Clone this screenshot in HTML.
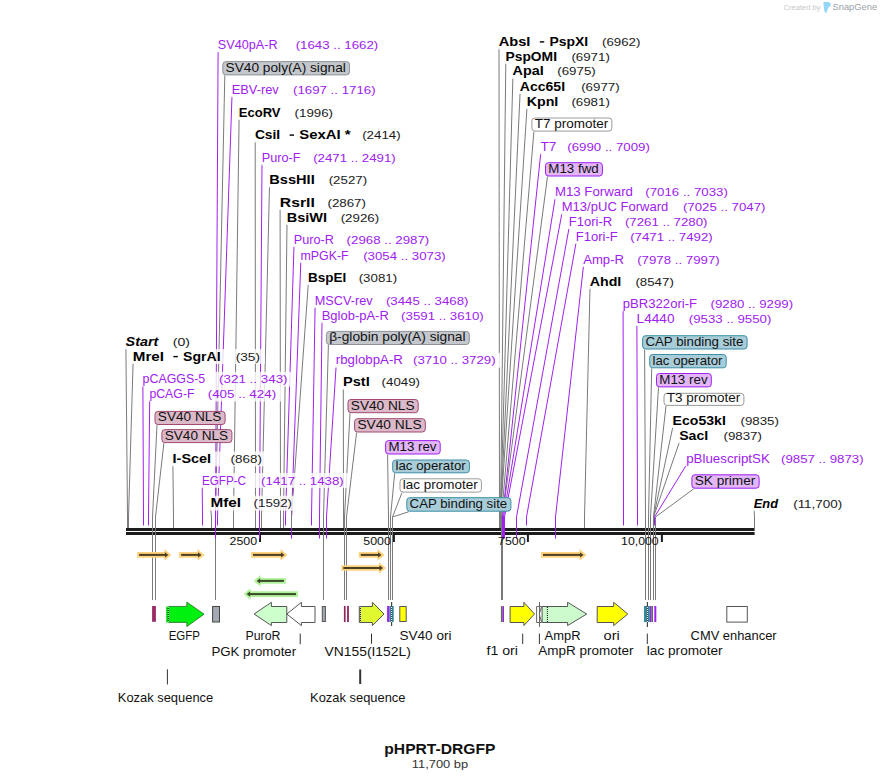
<!DOCTYPE html>
<html><head><meta charset="utf-8"><style>html,body{margin:0;padding:0;background:#fff;width:881px;height:780px;overflow:hidden}svg{display:block}text{font-family:"Liberation Sans",sans-serif}</style></head>
<body><svg width="881" height="780" viewBox="0 0 881 780" font-family="Liberation Sans, sans-serif">
<rect width="881" height="780" fill="#fff"/>
<rect x="126" y="528" width="628.6" height="3" fill="#1c1c1c"/><rect x="126" y="532" width="628.6" height="3" fill="#1c1c1c"/><rect x="259.0" y="535" width="2" height="7" fill="#1c1c1c"/><rect x="392.9" y="535" width="2" height="7" fill="#1c1c1c"/><rect x="526.9" y="535" width="2" height="7" fill="#1c1c1c"/><rect x="660.9" y="535" width="2" height="7" fill="#1c1c1c"/>
<polyline points="224.80,75.40 215.50,517.00 215.50,600.00" fill="none" stroke="#7a7a7a" stroke-width="1.0" stroke-linejoin="miter"/><polyline points="328.40,345.00 323.50,517.00 323.50,600.00" fill="none" stroke="#7a7a7a" stroke-width="1.0" stroke-linejoin="miter"/><polyline points="157.00,425.00 152.50,517.00 152.50,600.00" fill="none" stroke="#7a7a7a" stroke-width="1.0" stroke-linejoin="miter"/><polyline points="163.90,443.10 155.50,517.00 155.50,600.00" fill="none" stroke="#7a7a7a" stroke-width="1.0" stroke-linejoin="miter"/><polyline points="350.00,413.20 344.50,517.00 344.50,600.00" fill="none" stroke="#7a7a7a" stroke-width="1.0" stroke-linejoin="miter"/><polyline points="356.60,432.50 346.50,517.00 346.50,600.00" fill="none" stroke="#7a7a7a" stroke-width="1.0" stroke-linejoin="miter"/><polyline points="387.60,454.50 388.50,517.00 388.50,600.00" fill="none" stroke="#7a7a7a" stroke-width="1.0" stroke-linejoin="miter"/><polyline points="394.70,473.30 390.50,517.00 390.50,600.00" fill="none" stroke="#7a7a7a" stroke-width="1.0" stroke-linejoin="miter"/><polyline points="402.00,492.60 392.50,517.00 392.50,600.00" fill="none" stroke="#7a7a7a" stroke-width="1.0" stroke-linejoin="miter"/><polyline points="408.80,511.70 392.50,517.00 392.50,600.00" fill="none" stroke="#7a7a7a" stroke-width="1.0" stroke-linejoin="miter"/><polyline points="533.90,131.60 501.50,517.00 501.50,600.00" fill="none" stroke="#7a7a7a" stroke-width="1.0" stroke-linejoin="miter"/><polyline points="547.50,176.50 502.50,517.00 502.50,600.00" fill="none" stroke="#7a7a7a" stroke-width="1.0" stroke-linejoin="miter"/><polyline points="644.60,349.50 645.50,517.00 645.50,600.00" fill="none" stroke="#7a7a7a" stroke-width="1.0" stroke-linejoin="miter"/><polyline points="651.70,368.30 648.50,517.00 648.50,600.00" fill="none" stroke="#7a7a7a" stroke-width="1.0" stroke-linejoin="miter"/><polyline points="658.50,387.40 650.50,517.00 650.50,600.00" fill="none" stroke="#7a7a7a" stroke-width="1.0" stroke-linejoin="miter"/><polyline points="666.00,405.90 653.50,517.00 653.50,600.00" fill="none" stroke="#7a7a7a" stroke-width="1.0" stroke-linejoin="miter"/><polyline points="693.90,488.70 655.50,517.00 655.50,600.00" fill="none" stroke="#7a7a7a" stroke-width="1.0" stroke-linejoin="miter"/><polyline points="218.10,51.00 215.50,517.00 215.50,538.50" fill="none" stroke="#a020f0" stroke-width="1.0" stroke-linejoin="miter"/><polyline points="232.00,95.80 217.50,517.00 217.50,525.50" fill="none" stroke="#a020f0" stroke-width="1.0" stroke-linejoin="miter"/><polyline points="239.10,118.70 233.50,517.00 233.50,528.00" fill="none" stroke="#7a7a7a" stroke-width="1.0" stroke-linejoin="miter"/><polyline points="255.20,141.10 255.50,517.00 255.50,528.00" fill="none" stroke="#7a7a7a" stroke-width="1.0" stroke-linejoin="miter"/><polyline points="262.00,163.80 259.50,517.00 259.50,538.50" fill="none" stroke="#a020f0" stroke-width="1.0" stroke-linejoin="miter"/><polyline points="269.50,186.00 261.50,517.00 261.50,528.00" fill="none" stroke="#7a7a7a" stroke-width="1.0" stroke-linejoin="miter"/><polyline points="280.10,208.70 280.50,517.00 280.50,528.00" fill="none" stroke="#7a7a7a" stroke-width="1.0" stroke-linejoin="miter"/><polyline points="287.00,223.50 283.50,517.00 283.50,528.00" fill="none" stroke="#7a7a7a" stroke-width="1.0" stroke-linejoin="miter"/><polyline points="294.00,245.60 285.50,517.00 285.50,525.50" fill="none" stroke="#a020f0" stroke-width="1.0" stroke-linejoin="miter"/><polyline points="300.80,261.50 291.50,517.00 291.50,538.50" fill="none" stroke="#a020f0" stroke-width="1.0" stroke-linejoin="miter"/><polyline points="308.30,283.80 291.50,517.00 291.50,528.00" fill="none" stroke="#7a7a7a" stroke-width="1.0" stroke-linejoin="miter"/><polyline points="315.10,306.50 311.50,517.00 311.50,525.50" fill="none" stroke="#a020f0" stroke-width="1.0" stroke-linejoin="miter"/><polyline points="322.00,321.60 319.50,517.00 319.50,538.50" fill="none" stroke="#a020f0" stroke-width="1.0" stroke-linejoin="miter"/><polyline points="336.10,366.30 326.50,517.00 326.50,538.50" fill="none" stroke="#a020f0" stroke-width="1.0" stroke-linejoin="miter"/><polyline points="343.30,388.30 343.50,517.00 343.50,528.00" fill="none" stroke="#7a7a7a" stroke-width="1.0" stroke-linejoin="miter"/><polyline points="125.90,347.90 127.50,517.00 127.50,528.00" fill="none" stroke="#7a7a7a" stroke-width="1.0" stroke-linejoin="miter"/><polyline points="133.10,362.60 128.50,517.00 128.50,528.00" fill="none" stroke="#7a7a7a" stroke-width="1.0" stroke-linejoin="miter"/><polyline points="142.90,385.30 143.50,517.00 143.50,525.50" fill="none" stroke="#a020f0" stroke-width="1.0" stroke-linejoin="miter"/><polyline points="149.70,400.10 148.50,517.00 148.50,525.50" fill="none" stroke="#a020f0" stroke-width="1.0" stroke-linejoin="miter"/><polyline points="172.90,465.00 173.50,517.00 173.50,528.00" fill="none" stroke="#7a7a7a" stroke-width="1.0" stroke-linejoin="miter"/><polyline points="202.20,486.50 202.50,517.00 202.50,525.50" fill="none" stroke="#a020f0" stroke-width="1.0" stroke-linejoin="miter"/><polyline points="210.80,509.20 211.50,517.00 211.50,528.00" fill="none" stroke="#7a7a7a" stroke-width="1.0" stroke-linejoin="miter"/><polyline points="499.00,47.90 499.50,517.00 499.50,528.00" fill="none" stroke="#7a7a7a" stroke-width="1.0" stroke-linejoin="miter"/><polyline points="505.80,62.60 500.50,517.00 500.50,528.00" fill="none" stroke="#7a7a7a" stroke-width="1.0" stroke-linejoin="miter"/><polyline points="512.90,77.40 500.50,517.00 500.50,528.00" fill="none" stroke="#7a7a7a" stroke-width="1.0" stroke-linejoin="miter"/><polyline points="520.10,92.60 500.50,517.00 500.50,528.00" fill="none" stroke="#7a7a7a" stroke-width="1.0" stroke-linejoin="miter"/><polyline points="527.00,107.60 500.50,517.00 500.50,528.00" fill="none" stroke="#7a7a7a" stroke-width="1.0" stroke-linejoin="miter"/><polyline points="540.80,152.90 502.50,517.00 502.50,538.50" fill="none" stroke="#a020f0" stroke-width="1.0" stroke-linejoin="miter"/><polyline points="555.20,198.00 503.50,517.00 503.50,538.50" fill="none" stroke="#a020f0" stroke-width="1.0" stroke-linejoin="miter"/><polyline points="562.00,213.00 504.50,517.00 504.50,538.50" fill="none" stroke="#a020f0" stroke-width="1.0" stroke-linejoin="miter"/><polyline points="569.10,227.70 516.50,517.00 516.50,538.50" fill="none" stroke="#a020f0" stroke-width="1.0" stroke-linejoin="miter"/><polyline points="576.10,242.60 526.50,517.00 526.50,525.50" fill="none" stroke="#a020f0" stroke-width="1.0" stroke-linejoin="miter"/><polyline points="583.50,265.60 555.50,517.00 555.50,538.50" fill="none" stroke="#a020f0" stroke-width="1.0" stroke-linejoin="miter"/><polyline points="590.00,287.70 584.50,517.00 584.50,528.00" fill="none" stroke="#7a7a7a" stroke-width="1.0" stroke-linejoin="miter"/><polyline points="623.10,309.80 623.50,517.00 623.50,525.50" fill="none" stroke="#a020f0" stroke-width="1.0" stroke-linejoin="miter"/><polyline points="636.90,324.60 637.50,517.00 637.50,525.50" fill="none" stroke="#a020f0" stroke-width="1.0" stroke-linejoin="miter"/><polyline points="672.90,426.70 653.50,517.00 653.50,528.00" fill="none" stroke="#7a7a7a" stroke-width="1.0" stroke-linejoin="miter"/><polyline points="679.50,441.80 653.50,517.00 653.50,528.00" fill="none" stroke="#7a7a7a" stroke-width="1.0" stroke-linejoin="miter"/><polyline points="686.50,464.80 654.50,517.00 654.50,525.50" fill="none" stroke="#a020f0" stroke-width="1.0" stroke-linejoin="miter"/><polyline points="754.10,509.70 754.50,517.00 754.50,528.00" fill="none" stroke="#7a7a7a" stroke-width="1.0" stroke-linejoin="miter"/>
<rect x="216.6" y="37.5" width="166.6" height="14.9" fill="#fff" fill-opacity="0.8"/><rect x="230.5" y="82.3" width="150.0" height="14.9" fill="#fff" fill-opacity="0.8"/><rect x="237.6" y="105.2" width="100.3" height="14.9" fill="#fff" fill-opacity="0.8"/><rect x="253.7" y="127.6" width="151.8" height="14.9" fill="#fff" fill-opacity="0.8"/><rect x="260.5" y="150.3" width="140.2" height="14.9" fill="#fff" fill-opacity="0.8"/><rect x="268.0" y="172.5" width="104.0" height="14.9" fill="#fff" fill-opacity="0.8"/><rect x="278.6" y="195.2" width="92.2" height="14.9" fill="#fff" fill-opacity="0.8"/><rect x="285.5" y="210.0" width="98.5" height="14.9" fill="#fff" fill-opacity="0.8"/><rect x="292.5" y="232.1" width="141.6" height="14.9" fill="#fff" fill-opacity="0.8"/><rect x="299.3" y="248.0" width="151.4" height="14.9" fill="#fff" fill-opacity="0.8"/><rect x="306.8" y="270.3" width="95.2" height="14.9" fill="#fff" fill-opacity="0.8"/><rect x="313.6" y="293.0" width="159.8" height="14.9" fill="#fff" fill-opacity="0.8"/><rect x="320.5" y="308.1" width="168.1" height="14.9" fill="#fff" fill-opacity="0.8"/><rect x="334.6" y="352.8" width="165.9" height="14.9" fill="#fff" fill-opacity="0.8"/><rect x="341.8" y="374.8" width="83.1" height="14.9" fill="#fff" fill-opacity="0.8"/><rect x="124.4" y="334.4" width="70.5" height="14.9" fill="#fff" fill-opacity="0.8"/><rect x="131.6" y="349.1" width="133.3" height="14.9" fill="#fff" fill-opacity="0.8"/><rect x="141.4" y="371.8" width="151.0" height="14.9" fill="#fff" fill-opacity="0.8"/><rect x="148.2" y="386.6" width="132.8" height="14.9" fill="#fff" fill-opacity="0.8"/><rect x="171.4" y="451.5" width="95.3" height="14.9" fill="#fff" fill-opacity="0.8"/><rect x="200.7" y="473.0" width="147.9" height="14.9" fill="#fff" fill-opacity="0.8"/><rect x="209.3" y="495.7" width="87.6" height="14.9" fill="#fff" fill-opacity="0.8"/><rect x="497.5" y="34.4" width="147.8" height="14.9" fill="#fff" fill-opacity="0.8"/><rect x="504.3" y="49.1" width="110.4" height="14.9" fill="#fff" fill-opacity="0.8"/><rect x="511.4" y="63.9" width="89.2" height="14.9" fill="#fff" fill-opacity="0.8"/><rect x="518.6" y="79.1" width="105.9" height="14.9" fill="#fff" fill-opacity="0.8"/><rect x="525.5" y="94.1" width="89.2" height="14.9" fill="#fff" fill-opacity="0.8"/><rect x="539.3" y="139.4" width="115.5" height="14.9" fill="#fff" fill-opacity="0.8"/><rect x="553.7" y="184.5" width="179.1" height="14.9" fill="#fff" fill-opacity="0.8"/><rect x="560.5" y="199.5" width="209.9" height="14.9" fill="#fff" fill-opacity="0.8"/><rect x="567.6" y="214.2" width="144.8" height="14.9" fill="#fff" fill-opacity="0.8"/><rect x="574.6" y="229.1" width="143.1" height="14.9" fill="#fff" fill-opacity="0.8"/><rect x="582.0" y="252.1" width="142.7" height="14.9" fill="#fff" fill-opacity="0.8"/><rect x="588.5" y="274.2" width="90.2" height="14.9" fill="#fff" fill-opacity="0.8"/><rect x="621.6" y="296.3" width="176.4" height="14.9" fill="#fff" fill-opacity="0.8"/><rect x="635.4" y="311.1" width="140.9" height="14.9" fill="#fff" fill-opacity="0.8"/><rect x="671.4" y="413.2" width="112.4" height="14.9" fill="#fff" fill-opacity="0.8"/><rect x="678.0" y="428.3" width="88.8" height="14.9" fill="#fff" fill-opacity="0.8"/><rect x="685.0" y="451.3" width="183.5" height="14.9" fill="#fff" fill-opacity="0.8"/><rect x="752.6" y="496.2" width="94.5" height="14.9" fill="#fff" fill-opacity="0.8"/>
<polygon points="137.1,552.1 164.4,552.1 164.4,549.1 171.4,554.9 164.4,560.6999999999999 164.4,557.6999999999999 137.1,557.6999999999999" fill="#fcd27e"/><rect x="139.1" y="553.9" width="26.30000000000001" height="2" fill="#4e3f24"/><polygon points="164.9,552.1999999999999 168.4,554.9 164.9,557.6" fill="#4e3f24"/><polygon points="179.1,552.1 197.5,552.1 197.5,549.1 204.5,554.9 197.5,560.6999999999999 197.5,557.6999999999999 179.1,557.6999999999999" fill="#fcd27e"/><rect x="181.1" y="553.9" width="17.400000000000006" height="2" fill="#4e3f24"/><polygon points="198.0,552.1999999999999 201.5,554.9 198.0,557.6" fill="#4e3f24"/><polygon points="251.0,552.1 280.5,552.1 280.5,549.1 287.5,554.9 280.5,560.6999999999999 280.5,557.6999999999999 251.0,557.6999999999999" fill="#fcd27e"/><rect x="253.0" y="553.9" width="28.5" height="2" fill="#4e3f24"/><polygon points="281.0,552.1999999999999 284.5,554.9 281.0,557.6" fill="#4e3f24"/><polygon points="358.8,552.1 377.5,552.1 377.5,549.1 384.5,554.9 377.5,560.6999999999999 377.5,557.6999999999999 358.8,557.6999999999999" fill="#fcd27e"/><rect x="360.8" y="553.9" width="17.69999999999999" height="2" fill="#4e3f24"/><polygon points="378.0,552.1999999999999 381.5,554.9 378.0,557.6" fill="#4e3f24"/><polygon points="341.3,565.2 379.0,565.2 379.0,562.2 386.0,568.0 379.0,573.8 379.0,570.8 341.3,570.8" fill="#fcd27e"/><rect x="343.3" y="567.0" width="36.69999999999999" height="2" fill="#4e3f24"/><polygon points="379.5,565.3 383.0,568.0 379.5,570.7" fill="#4e3f24"/><polygon points="541.0,552.1 579.5,552.1 579.5,549.1 586.5,554.9 579.5,560.6999999999999 579.5,557.6999999999999 541.0,557.6999999999999" fill="#fcd27e"/><rect x="543.0" y="553.9" width="37.5" height="2" fill="#4e3f24"/><polygon points="580.0,552.1999999999999 583.5,554.9 580.0,557.6" fill="#4e3f24"/><polygon points="285.9,578.1 260.6,578.1 260.6,575.1 253.6,580.9 260.6,586.6999999999999 260.6,583.6999999999999 285.9,583.6999999999999" fill="#b0f29a"/><rect x="259.6" y="579.9" width="24.299999999999955" height="2" fill="#3c4a2c"/><polygon points="260.1,578.1999999999999 256.6,580.9 260.1,583.6" fill="#3c4a2c"/><polygon points="298.0,591.3000000000001 250.6,591.3000000000001 250.6,588.3000000000001 243.6,594.1 250.6,599.9 250.6,596.9 298.0,596.9" fill="#b0f29a"/><rect x="249.6" y="593.1" width="46.400000000000006" height="2" fill="#3c4a2c"/><polygon points="250.1,591.4 246.6,594.1 250.1,596.8000000000001" fill="#3c4a2c"/>
<rect x="152.1" y="606.0" width="3.8" height="15.8" fill="#9a2a64"/><polygon points="166.1,606.4 186.8,606.4 186.8,602.1 204.1,614.2 186.8,626.6 186.8,622.4 166.1,622.4" fill="#00f010"/><polyline points="168.3,606.4 186.8,606.4 186.8,602.1 204.1,614.2 186.8,626.6 186.8,622.4 168.3,622.4" fill="none" stroke="#2a6a2a" stroke-width="0.8"/><rect x="212.6" y="606.5" width="6.9" height="15.5" fill="#a4a9b2" stroke="#444" stroke-width="1"/><polygon points="286.8,606.5 271.4,606.5 271.4,602.3 254.1,614.0 271.4,625.6 271.4,622.5 286.8,622.5" fill="#ccffcc" stroke="#555" stroke-width="1"/><polygon points="315.0,606.5 301.4,606.5 301.4,602.3 286.8,614.0 301.4,625.6 301.4,622.5 315.0,622.5" fill="#ffffff" stroke="#555" stroke-width="1"/><rect x="322.3" y="606.5" width="3.1" height="15.0" fill="#a4a9b2" stroke="#555" stroke-width="1"/><rect x="343.9" y="605.9" width="1.7" height="16.2" fill="#8e2660"/><rect x="347.1" y="605.9" width="1.8" height="16.2" fill="#8e2660"/><polygon points="359.3,606.5 372.4,606.5 372.4,602.3 384.0,614.0 372.4,625.6 372.4,622.5 359.3,622.5" fill="#e0f830" stroke="#555" stroke-width="1"/><rect x="387.1" y="606.0" width="2.4" height="16.0" fill="#a020f0"/><rect x="389.5" y="606.0" width="4.2" height="16.0" fill="#2e8a9e"/><line x1="391.6" y1="602" x2="391.6" y2="626" stroke="#444" stroke-width="1.2"/><line x1="391.6" y1="607" x2="391.6" y2="622" stroke="#fff" stroke-width="1" stroke-dasharray="1,1"/><rect x="399.8" y="606.5" width="6.4" height="15.0" fill="#ffff00" stroke="#555" stroke-width="1"/><rect x="500.9" y="606.1" width="1.9" height="15.9" fill="#666"/><rect x="502.8" y="606.1" width="1.2" height="15.9" fill="#a020f0"/><polygon points="510.1,606.5 523.9,606.5 523.9,602.3 534.5,614.0 523.9,625.6 523.9,622.5 510.1,622.5" fill="#ffff00" stroke="#555" stroke-width="1"/><polygon points="536.6,606.5 541.6,606.5 539.3,614 541.6,622.5 536.6,622.5" fill="#fff" stroke="#666" stroke-width="1"/><line x1="539.5" y1="602" x2="539.5" y2="627" stroke="#666" stroke-width="1"/><polygon points="542.1,606.5 567.6,606.5 567.6,602.3 586.7,614.0 567.6,625.6 567.6,622.5 542.1,622.5" fill="#ccfacc" stroke="#555" stroke-width="1"/><polygon points="597.2,606.5 613.7,606.5 613.7,602.3 627.8,614.0 613.7,625.6 613.7,622.5 597.2,622.5" fill="#ffff00" stroke="#555" stroke-width="1"/><rect x="644.0" y="606.0" width="5.8" height="16.0" fill="#2e8a9e"/><rect x="649.8" y="606.0" width="1.5" height="16.0" fill="#a020f0"/><rect x="651.3" y="606.0" width="1.7" height="16.0" fill="#666"/><rect x="654.3" y="606.0" width="2.0" height="16.0" fill="#a020f0"/><line x1="647.4" y1="602" x2="647.4" y2="627" stroke="#444" stroke-width="1.2"/><line x1="647.4" y1="607" x2="647.4" y2="622" stroke="#fff" stroke-width="1" stroke-dasharray="1,1"/><rect x="726.8" y="606.5" width="20.5" height="15.6" fill="#ffffff" stroke="#555" stroke-width="1"/><line x1="168.2" y1="607" x2="168.2" y2="622" stroke="#000" stroke-width="1"/><line x1="168.2" y1="607" x2="168.2" y2="622" stroke="#fff" stroke-width="1" stroke-dasharray="1,1"/><line x1="547.4" y1="607" x2="547.4" y2="622" stroke="#111" stroke-width="1" stroke-dasharray="1,1"/><line x1="360.3" y1="607" x2="360.3" y2="622" stroke="#000" stroke-width="1"/><line x1="360.3" y1="607" x2="360.3" y2="622" stroke="#fff" stroke-width="1" stroke-dasharray="1,1"/><rect x="299.7" y="633.6" width="1" height="10.7" fill="#333"/><rect x="371.0" y="633.6" width="1" height="10.2" fill="#333"/><rect x="522.2" y="633.6" width="1" height="10.4" fill="#333"/><rect x="538.9" y="633.6" width="1" height="10.4" fill="#333"/><rect x="646.8" y="633.6" width="1" height="10.4" fill="#333"/><rect x="166.9" y="669.3" width="1" height="15.2" fill="#333"/><rect x="359.2" y="669.5" width="2" height="14.5" fill="#333"/>
<rect x="222.8" y="61.6" width="126.7" height="13.3" rx="3" ry="3" fill="#c4c7cc" stroke="#8e9399" stroke-width="1"/><rect x="326.4" y="331.4" width="142.9" height="13.1" rx="3" ry="3" fill="#c4c7cc" stroke="#8e9399" stroke-width="1"/><rect x="155.0" y="411.4" width="70.1" height="13.1" rx="3" ry="3" fill="#dcb9c9" stroke="#a04a72" stroke-width="1"/><rect x="161.9" y="429.6" width="70.0" height="13.0" rx="3" ry="3" fill="#dcb9c9" stroke="#a04a72" stroke-width="1"/><rect x="348.0" y="399.5" width="70.2" height="13.2" rx="3" ry="3" fill="#dcb9c9" stroke="#a04a72" stroke-width="1"/><rect x="354.6" y="418.7" width="70.7" height="13.3" rx="3" ry="3" fill="#dcb9c9" stroke="#a04a72" stroke-width="1"/><rect x="385.6" y="440.6" width="54.6" height="13.4" rx="3" ry="3" fill="#e2b6f8" stroke="#a020f0" stroke-width="1"/><rect x="392.7" y="460.0" width="76.7" height="12.8" rx="3" ry="3" fill="#a8cdd8" stroke="#3d8ea6" stroke-width="1"/><rect x="400.0" y="478.8" width="81.4" height="13.3" rx="3" ry="3" fill="#ffffff" stroke="#9a9a9a" stroke-width="1"/><rect x="406.8" y="497.7" width="104.1" height="13.5" rx="3" ry="3" fill="#a8cdd8" stroke="#3d8ea6" stroke-width="1"/><rect x="531.9" y="118.0" width="80.0" height="13.1" rx="3" ry="3" fill="#ffffff" stroke="#9a9a9a" stroke-width="1"/><rect x="545.5" y="162.7" width="56.9" height="13.3" rx="3" ry="3" fill="#e2b6f8" stroke="#a020f0" stroke-width="1"/><rect x="642.6" y="335.7" width="104.5" height="13.3" rx="3" ry="3" fill="#a8cdd8" stroke="#3d8ea6" stroke-width="1"/><rect x="649.7" y="354.5" width="76.5" height="13.3" rx="3" ry="3" fill="#a8cdd8" stroke="#3d8ea6" stroke-width="1"/><rect x="656.5" y="373.5" width="54.8" height="13.4" rx="3" ry="3" fill="#e2b6f8" stroke="#a020f0" stroke-width="1"/><rect x="664.0" y="393.3" width="79.9" height="12.1" rx="3" ry="3" fill="#ffffff" stroke="#9a9a9a" stroke-width="1"/><rect x="691.9" y="474.8" width="67.2" height="13.4" rx="3" ry="3" fill="#e2b6f8" stroke="#a020f0" stroke-width="1"/>
<text x="225.60" y="71.80" font-size="11.9" fill="#111" textLength="120.2" lengthAdjust="spacingAndGlyphs">SV40 poly(A) signal</text><text x="329.20" y="341.40" font-size="11.9" fill="#111" textLength="136.4" lengthAdjust="spacingAndGlyphs">β-globin poly(A) signal</text><text x="157.80" y="421.40" font-size="11.9" fill="#111" textLength="63.6" lengthAdjust="spacingAndGlyphs">SV40 NLS</text><text x="164.70" y="439.50" font-size="11.9" fill="#111" textLength="63.5" lengthAdjust="spacingAndGlyphs">SV40 NLS</text><text x="350.80" y="409.60" font-size="11.9" fill="#111" textLength="63.7" lengthAdjust="spacingAndGlyphs">SV40 NLS</text><text x="357.40" y="428.90" font-size="11.9" fill="#111" textLength="64.2" lengthAdjust="spacingAndGlyphs">SV40 NLS</text><text x="388.40" y="450.90" font-size="11.9" fill="#111" textLength="48.1" lengthAdjust="spacingAndGlyphs">M13 rev</text><text x="395.50" y="469.70" font-size="11.9" fill="#111" textLength="70.2" lengthAdjust="spacingAndGlyphs">lac operator</text><text x="402.80" y="489.00" font-size="11.9" fill="#111" textLength="74.9" lengthAdjust="spacingAndGlyphs">lac promoter</text><text x="409.60" y="508.10" font-size="11.9" fill="#111" textLength="97.6" lengthAdjust="spacingAndGlyphs">CAP binding site</text><text x="534.70" y="128.00" font-size="11.9" fill="#111" textLength="73.5" lengthAdjust="spacingAndGlyphs">T7 promoter</text><text x="548.30" y="172.90" font-size="11.9" fill="#111" textLength="50.4" lengthAdjust="spacingAndGlyphs">M13 fwd</text><text x="645.40" y="345.90" font-size="11.9" fill="#111" textLength="98.0" lengthAdjust="spacingAndGlyphs">CAP binding site</text><text x="652.50" y="364.70" font-size="11.9" fill="#111" textLength="70.0" lengthAdjust="spacingAndGlyphs">lac operator</text><text x="659.30" y="383.80" font-size="11.9" fill="#111" textLength="48.3" lengthAdjust="spacingAndGlyphs">M13 rev</text><text x="666.80" y="402.30" font-size="11.9" fill="#111" textLength="73.4" lengthAdjust="spacingAndGlyphs">T3 promoter</text><text x="694.70" y="485.10" font-size="11.9" fill="#111" textLength="60.7" lengthAdjust="spacingAndGlyphs">SK primer</text><text x="217.80" y="49.00" font-size="12.32" font-weight="normal" font-style="normal" fill="#a020f0" textLength="59.82" lengthAdjust="spacingAndGlyphs">SV40pA-R</text><text x="295.70" y="49.00" font-size="11.49" font-weight="normal" font-style="normal" fill="#a020f0" textLength="82.60" lengthAdjust="spacingAndGlyphs">(1643 .. 1662)</text><text x="231.70" y="93.80" font-size="12.32" font-weight="normal" font-style="normal" fill="#a020f0" textLength="47.04" lengthAdjust="spacingAndGlyphs">EBV-rev</text><text x="293.00" y="93.80" font-size="11.49" font-weight="normal" font-style="normal" fill="#a020f0" textLength="82.60" lengthAdjust="spacingAndGlyphs">(1697 .. 1716)</text><text x="238.80" y="116.70" font-size="12.32" font-weight="bold" font-style="normal" fill="#000" textLength="41.72" lengthAdjust="spacingAndGlyphs">EcoRV</text><text x="294.60" y="116.70" font-size="11.49" font-weight="normal" font-style="normal" fill="#1a1a1a" textLength="38.43" lengthAdjust="spacingAndGlyphs">(1996)</text><text x="254.90" y="139.10" font-size="12.32" font-weight="bold" font-style="normal" fill="#000" textLength="25.31" lengthAdjust="spacingAndGlyphs">CsiI</text><rect x="289.62" y="134.40" width="4.4" height="1.4" fill="#000"/><text x="299.22" y="139.10" font-size="12.32" font-weight="bold" font-style="normal" fill="#000" textLength="51.31" lengthAdjust="spacingAndGlyphs">SexAI *</text><text x="362.20" y="139.10" font-size="11.49" font-weight="normal" font-style="normal" fill="#1a1a1a" textLength="38.43" lengthAdjust="spacingAndGlyphs">(2414)</text><text x="261.70" y="161.80" font-size="12.32" font-weight="normal" font-style="normal" fill="#a020f0" textLength="38.77" lengthAdjust="spacingAndGlyphs">Puro-F</text><text x="313.20" y="161.80" font-size="11.49" font-weight="normal" font-style="normal" fill="#a020f0" textLength="82.60" lengthAdjust="spacingAndGlyphs">(2471 .. 2491)</text><text x="269.20" y="184.00" font-size="12.32" font-weight="bold" font-style="normal" fill="#000" textLength="45.54" lengthAdjust="spacingAndGlyphs">BssHII</text><text x="328.70" y="184.00" font-size="11.49" font-weight="normal" font-style="normal" fill="#1a1a1a" textLength="38.43" lengthAdjust="spacingAndGlyphs">(2527)</text><text x="279.80" y="206.70" font-size="12.32" font-weight="bold" font-style="normal" fill="#000" textLength="34.96" lengthAdjust="spacingAndGlyphs">RsrII</text><text x="327.50" y="206.70" font-size="11.49" font-weight="normal" font-style="normal" fill="#1a1a1a" textLength="38.43" lengthAdjust="spacingAndGlyphs">(2867)</text><text x="286.70" y="221.50" font-size="12.32" font-weight="bold" font-style="normal" fill="#000" textLength="40.27" lengthAdjust="spacingAndGlyphs">BsiWI</text><text x="340.70" y="221.50" font-size="11.49" font-weight="normal" font-style="normal" fill="#1a1a1a" textLength="38.43" lengthAdjust="spacingAndGlyphs">(2926)</text><text x="293.70" y="243.60" font-size="12.32" font-weight="normal" font-style="normal" fill="#a020f0" textLength="40.18" lengthAdjust="spacingAndGlyphs">Puro-R</text><text x="346.60" y="243.60" font-size="11.49" font-weight="normal" font-style="normal" fill="#a020f0" textLength="82.60" lengthAdjust="spacingAndGlyphs">(2968 .. 2987)</text><text x="300.50" y="259.50" font-size="12.32" font-weight="normal" font-style="normal" fill="#a020f0" textLength="48.17" lengthAdjust="spacingAndGlyphs">mPGK-F</text><text x="363.20" y="259.50" font-size="11.49" font-weight="normal" font-style="normal" fill="#a020f0" textLength="82.60" lengthAdjust="spacingAndGlyphs">(3054 .. 3073)</text><text x="308.00" y="281.80" font-size="12.32" font-weight="bold" font-style="normal" fill="#000" textLength="38.21" lengthAdjust="spacingAndGlyphs">BspEI</text><text x="358.70" y="281.80" font-size="11.49" font-weight="normal" font-style="normal" fill="#1a1a1a" textLength="38.43" lengthAdjust="spacingAndGlyphs">(3081)</text><text x="314.80" y="304.50" font-size="12.32" font-weight="normal" font-style="normal" fill="#a020f0" textLength="57.84" lengthAdjust="spacingAndGlyphs">MSCV-rev</text><text x="385.90" y="304.50" font-size="11.49" font-weight="normal" font-style="normal" fill="#a020f0" textLength="82.60" lengthAdjust="spacingAndGlyphs">(3445 .. 3468)</text><text x="321.70" y="319.60" font-size="12.32" font-weight="normal" font-style="normal" fill="#a020f0" textLength="67.14" lengthAdjust="spacingAndGlyphs">Bglob-pA-R</text><text x="401.10" y="319.60" font-size="11.49" font-weight="normal" font-style="normal" fill="#a020f0" textLength="82.60" lengthAdjust="spacingAndGlyphs">(3591 .. 3610)</text><text x="335.80" y="364.30" font-size="12.32" font-weight="normal" font-style="normal" fill="#a020f0" textLength="67.13" lengthAdjust="spacingAndGlyphs">rbglobpA-R</text><text x="413.00" y="364.30" font-size="11.49" font-weight="normal" font-style="normal" fill="#a020f0" textLength="82.60" lengthAdjust="spacingAndGlyphs">(3710 .. 3729)</text><text x="343.00" y="386.30" font-size="12.32" font-weight="bold" font-style="normal" fill="#000" textLength="26.70" lengthAdjust="spacingAndGlyphs">PstI</text><text x="381.60" y="386.30" font-size="11.49" font-weight="normal" font-style="normal" fill="#1a1a1a" textLength="38.43" lengthAdjust="spacingAndGlyphs">(4049)</text><text x="125.60" y="345.90" font-size="12.32" font-weight="bold" font-style="italic" fill="#000" textLength="32.70" lengthAdjust="spacingAndGlyphs">Start</text><text x="172.80" y="345.90" font-size="11.49" font-weight="normal" font-style="normal" fill="#1a1a1a" textLength="17.25" lengthAdjust="spacingAndGlyphs">(0)</text><text x="132.80" y="360.60" font-size="12.32" font-weight="bold" font-style="normal" fill="#000" textLength="31.20" lengthAdjust="spacingAndGlyphs">MreI</text><rect x="173.41" y="355.90" width="4.4" height="1.4" fill="#000"/><text x="183.01" y="360.60" font-size="12.32" font-weight="bold" font-style="normal" fill="#000" textLength="37.58" lengthAdjust="spacingAndGlyphs">SgrAI</text><text x="235.70" y="360.60" font-size="11.49" font-weight="normal" font-style="normal" fill="#1a1a1a" textLength="24.31" lengthAdjust="spacingAndGlyphs">(35)</text><text x="142.60" y="383.30" font-size="12.32" font-weight="normal" font-style="normal" fill="#a020f0" textLength="62.64" lengthAdjust="spacingAndGlyphs">pCAGGS-5</text><text x="219.10" y="383.30" font-size="11.49" font-weight="normal" font-style="normal" fill="#a020f0" textLength="68.46" lengthAdjust="spacingAndGlyphs">(321 .. 343)</text><text x="149.40" y="398.10" font-size="12.32" font-weight="normal" font-style="normal" fill="#a020f0" textLength="45.13" lengthAdjust="spacingAndGlyphs">pCAG-F</text><text x="207.70" y="398.10" font-size="11.49" font-weight="normal" font-style="normal" fill="#a020f0" textLength="68.46" lengthAdjust="spacingAndGlyphs">(405 .. 424)</text><text x="172.60" y="463.00" font-size="12.32" font-weight="bold" font-style="normal" fill="#000" textLength="38.47" lengthAdjust="spacingAndGlyphs">I-SceI</text><text x="230.50" y="463.00" font-size="11.49" font-weight="normal" font-style="normal" fill="#1a1a1a" textLength="31.37" lengthAdjust="spacingAndGlyphs">(868)</text><text x="201.90" y="484.50" font-size="12.32" font-weight="normal" font-style="normal" fill="#a020f0" textLength="44.09" lengthAdjust="spacingAndGlyphs">EGFP-C</text><text x="261.10" y="484.50" font-size="11.49" font-weight="normal" font-style="normal" fill="#a020f0" textLength="82.60" lengthAdjust="spacingAndGlyphs">(1417 .. 1438)</text><text x="210.50" y="507.20" font-size="12.32" font-weight="bold" font-style="normal" fill="#000" textLength="30.50" lengthAdjust="spacingAndGlyphs">MfeI</text><text x="253.60" y="507.20" font-size="11.49" font-weight="normal" font-style="normal" fill="#1a1a1a" textLength="38.43" lengthAdjust="spacingAndGlyphs">(1592)</text><text x="498.70" y="45.90" font-size="12.32" font-weight="bold" font-style="normal" fill="#000" textLength="31.72" lengthAdjust="spacingAndGlyphs">AbsI</text><rect x="539.84" y="41.20" width="4.4" height="1.4" fill="#000"/><text x="549.44" y="45.90" font-size="12.32" font-weight="bold" font-style="normal" fill="#000" textLength="38.70" lengthAdjust="spacingAndGlyphs">PspXI</text><text x="602.00" y="45.90" font-size="11.49" font-weight="normal" font-style="normal" fill="#1a1a1a" textLength="38.43" lengthAdjust="spacingAndGlyphs">(6962)</text><text x="505.50" y="60.60" font-size="12.32" font-weight="bold" font-style="normal" fill="#000" textLength="51.49" lengthAdjust="spacingAndGlyphs">PspOMI</text><text x="571.40" y="60.60" font-size="11.49" font-weight="normal" font-style="normal" fill="#1a1a1a" textLength="38.43" lengthAdjust="spacingAndGlyphs">(6971)</text><text x="512.60" y="75.40" font-size="12.32" font-weight="bold" font-style="normal" fill="#000" textLength="31.18" lengthAdjust="spacingAndGlyphs">ApaI</text><text x="557.30" y="75.40" font-size="11.49" font-weight="normal" font-style="normal" fill="#1a1a1a" textLength="38.43" lengthAdjust="spacingAndGlyphs">(6975)</text><text x="519.80" y="90.60" font-size="12.32" font-weight="bold" font-style="normal" fill="#000" textLength="45.29" lengthAdjust="spacingAndGlyphs">Acc65I</text><text x="581.20" y="90.60" font-size="11.49" font-weight="normal" font-style="normal" fill="#1a1a1a" textLength="38.43" lengthAdjust="spacingAndGlyphs">(6977)</text><text x="526.70" y="105.60" font-size="12.32" font-weight="bold" font-style="normal" fill="#000" textLength="31.63" lengthAdjust="spacingAndGlyphs">KpnI</text><text x="571.40" y="105.60" font-size="11.49" font-weight="normal" font-style="normal" fill="#1a1a1a" textLength="38.43" lengthAdjust="spacingAndGlyphs">(6981)</text><text x="540.50" y="150.90" font-size="12.32" font-weight="normal" font-style="normal" fill="#a020f0" textLength="15.86" lengthAdjust="spacingAndGlyphs">T7</text><text x="567.30" y="150.90" font-size="11.49" font-weight="normal" font-style="normal" fill="#a020f0" textLength="82.60" lengthAdjust="spacingAndGlyphs">(6990 .. 7009)</text><text x="554.90" y="196.00" font-size="12.32" font-weight="normal" font-style="normal" fill="#a020f0" textLength="78.04" lengthAdjust="spacingAndGlyphs">M13 Forward</text><text x="645.30" y="196.00" font-size="11.49" font-weight="normal" font-style="normal" fill="#a020f0" textLength="82.60" lengthAdjust="spacingAndGlyphs">(7016 .. 7033)</text><text x="561.70" y="211.00" font-size="12.32" font-weight="normal" font-style="normal" fill="#a020f0" textLength="106.62" lengthAdjust="spacingAndGlyphs">M13/pUC Forward</text><text x="682.90" y="211.00" font-size="11.49" font-weight="normal" font-style="normal" fill="#a020f0" textLength="82.60" lengthAdjust="spacingAndGlyphs">(7025 .. 7047)</text><text x="568.80" y="225.70" font-size="12.32" font-weight="normal" font-style="normal" fill="#a020f0" textLength="43.44" lengthAdjust="spacingAndGlyphs">F1ori-R</text><text x="624.90" y="225.70" font-size="11.49" font-weight="normal" font-style="normal" fill="#a020f0" textLength="82.60" lengthAdjust="spacingAndGlyphs">(7261 .. 7280)</text><text x="575.80" y="240.60" font-size="12.32" font-weight="normal" font-style="normal" fill="#a020f0" textLength="42.02" lengthAdjust="spacingAndGlyphs">F1ori-F</text><text x="630.20" y="240.60" font-size="11.49" font-weight="normal" font-style="normal" fill="#a020f0" textLength="82.60" lengthAdjust="spacingAndGlyphs">(7471 .. 7492)</text><text x="583.20" y="263.60" font-size="12.32" font-weight="normal" font-style="normal" fill="#a020f0" textLength="40.84" lengthAdjust="spacingAndGlyphs">Amp-R</text><text x="637.20" y="263.60" font-size="11.49" font-weight="normal" font-style="normal" fill="#a020f0" textLength="82.60" lengthAdjust="spacingAndGlyphs">(7978 .. 7997)</text><text x="589.70" y="285.70" font-size="12.32" font-weight="bold" font-style="normal" fill="#000" textLength="31.62" lengthAdjust="spacingAndGlyphs">AhdI</text><text x="635.40" y="285.70" font-size="11.49" font-weight="normal" font-style="normal" fill="#1a1a1a" textLength="38.43" lengthAdjust="spacingAndGlyphs">(8547)</text><text x="622.80" y="307.80" font-size="12.32" font-weight="normal" font-style="normal" fill="#a020f0" textLength="74.30" lengthAdjust="spacingAndGlyphs">pBR322ori-F</text><text x="710.50" y="307.80" font-size="11.49" font-weight="normal" font-style="normal" fill="#a020f0" textLength="82.60" lengthAdjust="spacingAndGlyphs">(9280 .. 9299)</text><text x="636.60" y="322.60" font-size="12.32" font-weight="normal" font-style="normal" fill="#a020f0" textLength="37.90" lengthAdjust="spacingAndGlyphs">L4440</text><text x="688.80" y="322.60" font-size="11.49" font-weight="normal" font-style="normal" fill="#a020f0" textLength="82.60" lengthAdjust="spacingAndGlyphs">(9533 .. 9550)</text><text x="672.60" y="424.70" font-size="12.32" font-weight="bold" font-style="normal" fill="#000" textLength="53.25" lengthAdjust="spacingAndGlyphs">Eco53kI</text><text x="740.50" y="424.70" font-size="11.49" font-weight="normal" font-style="normal" fill="#1a1a1a" textLength="38.43" lengthAdjust="spacingAndGlyphs">(9835)</text><text x="679.20" y="439.80" font-size="12.32" font-weight="bold" font-style="normal" fill="#000" textLength="29.07" lengthAdjust="spacingAndGlyphs">SacI</text><text x="723.50" y="439.80" font-size="11.49" font-weight="normal" font-style="normal" fill="#1a1a1a" textLength="38.43" lengthAdjust="spacingAndGlyphs">(9837)</text><text x="686.20" y="462.80" font-size="12.32" font-weight="normal" font-style="normal" fill="#a020f0" textLength="83.64" lengthAdjust="spacingAndGlyphs">pBluescriptSK</text><text x="781.00" y="462.80" font-size="11.49" font-weight="normal" font-style="normal" fill="#a020f0" textLength="82.60" lengthAdjust="spacingAndGlyphs">(9857 .. 9873)</text><text x="753.80" y="507.70" font-size="12.32" font-weight="bold" font-style="italic" fill="#000" textLength="24.21" lengthAdjust="spacingAndGlyphs">End</text><text x="793.20" y="507.70" font-size="11.49" font-weight="normal" font-style="normal" fill="#1a1a1a" textLength="49.02" lengthAdjust="spacingAndGlyphs">(11,700)</text><text x="229.5" y="544.9" font-size="10.7" fill="#111" textLength="27.6" lengthAdjust="spacingAndGlyphs">2500</text><text x="363.3" y="544.9" font-size="10.7" fill="#111" textLength="27.6" lengthAdjust="spacingAndGlyphs">5000</text><text x="498.0" y="544.9" font-size="10.7" fill="#111" textLength="27.6" lengthAdjust="spacingAndGlyphs">7500</text><text x="621.1" y="544.9" font-size="10.7" fill="#111" textLength="37.6" lengthAdjust="spacingAndGlyphs">10,000</text><text x="168.70" y="639.80" font-size="12.11" font-weight="normal" font-style="normal" fill="#111" textLength="31.21" lengthAdjust="spacingAndGlyphs">EGFP</text><text x="245.40" y="639.80" font-size="12.11" font-weight="normal" font-style="normal" fill="#111" textLength="35.07" lengthAdjust="spacingAndGlyphs">PuroR</text><text x="211.40" y="655.60" font-size="12.11" font-weight="normal" font-style="normal" fill="#111" textLength="84.79" lengthAdjust="spacingAndGlyphs">PGK promoter</text><text x="399.50" y="640.00" font-size="12.11" font-weight="normal" font-style="normal" fill="#111" textLength="51.93" lengthAdjust="spacingAndGlyphs">SV40 ori</text><text x="324.60" y="655.90" font-size="12.11" font-weight="normal" font-style="normal" fill="#111" textLength="86.19" lengthAdjust="spacingAndGlyphs">VN155(I152L)</text><text x="544.60" y="639.60" font-size="12.11" font-weight="normal" font-style="normal" fill="#111" textLength="35.93" lengthAdjust="spacingAndGlyphs">AmpR</text><text x="603.60" y="639.60" font-size="12.11" font-weight="normal" font-style="normal" fill="#111" textLength="16.19" lengthAdjust="spacingAndGlyphs">ori</text><text x="486.50" y="655.40" font-size="12.11" font-weight="normal" font-style="normal" fill="#111" textLength="31.47" lengthAdjust="spacingAndGlyphs">f1 ori</text><text x="538.20" y="655.40" font-size="12.11" font-weight="normal" font-style="normal" fill="#111" textLength="95.35" lengthAdjust="spacingAndGlyphs">AmpR promoter</text><text x="690.60" y="639.60" font-size="12.11" font-weight="normal" font-style="normal" fill="#111" textLength="86.02" lengthAdjust="spacingAndGlyphs">CMV enhancer</text><text x="646.80" y="655.40" font-size="12.11" font-weight="normal" font-style="normal" fill="#111" textLength="75.84" lengthAdjust="spacingAndGlyphs">lac promoter</text><text x="117.80" y="702.20" font-size="12.11" font-weight="normal" font-style="normal" fill="#111" textLength="95.40" lengthAdjust="spacingAndGlyphs">Kozak sequence</text><text x="310.10" y="702.20" font-size="12.11" font-weight="normal" font-style="normal" fill="#111" textLength="95.40" lengthAdjust="spacingAndGlyphs">Kozak sequence</text><text x="384.30" y="753.80" font-size="14.59" font-weight="bold" font-style="normal" fill="#111" textLength="111.12" lengthAdjust="spacingAndGlyphs">pHPRT-DRGFP</text><text x="411.80" y="767.80" font-size="11.28" font-weight="normal" font-style="normal" fill="#333" textLength="56.34" lengthAdjust="spacingAndGlyphs">11,700 bp</text>
<text x="783.6" y="10.4" font-size="7.8" fill="#c8c8c8" textLength="36.8" lengthAdjust="spacingAndGlyphs">Created by</text><polygon points="823.3,2 828.6,2 830.6,3.3 830.6,6.2 828.4,7.2 827.4,10.5 826.4,12.7 825.1,12.7 824.0,9.5 823.5,3.2" fill="#93d6f8"/><text x="832.5" y="10.4" font-size="8.5" fill="#9ba1a8" textLength="44.6" lengthAdjust="spacingAndGlyphs">SnapGene</text>
</svg></body></html>
